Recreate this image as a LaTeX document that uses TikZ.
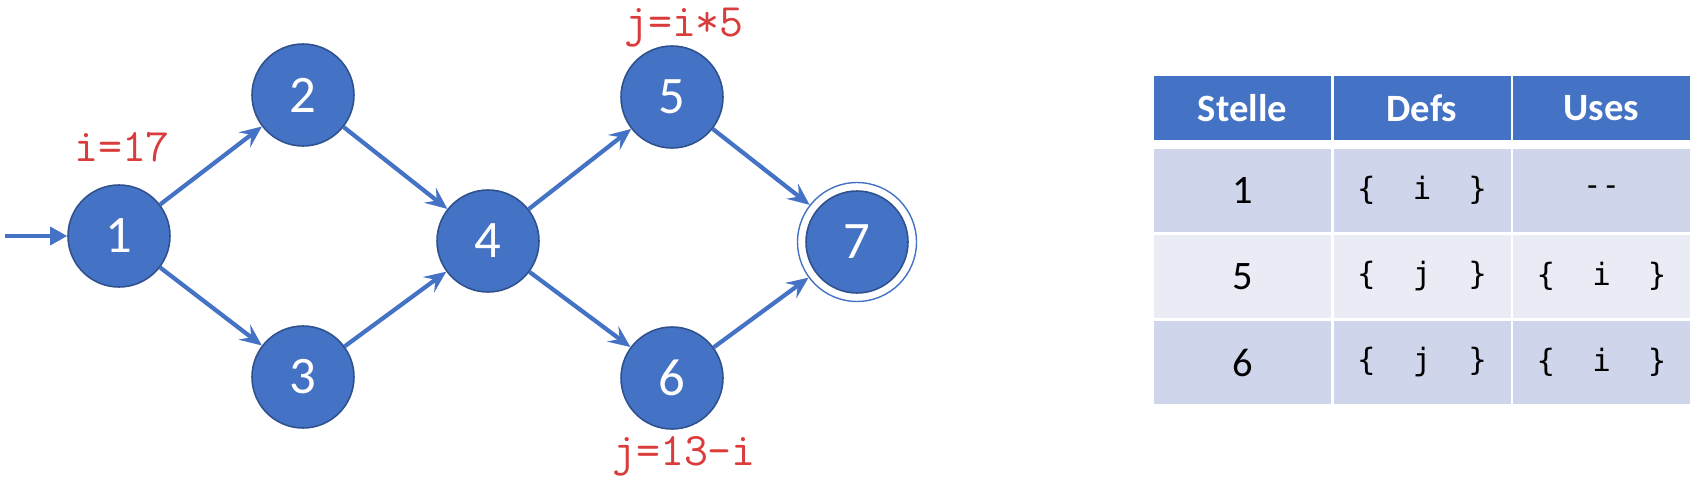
\documentclass[tikz,border=0pt]{standalone}
\usepackage{fontspec}
\setmainfont{Carlito}
\newfontfamily\cellmono{DejaVu Sans Mono}
\usepackage{xcolor}
\usetikzlibrary{arrows.meta}
\definecolor{nodeblue}{HTML}{4472C4}
\definecolor{nodeedge}{HTML}{2F528F}
\definecolor{defred}{HTML}{DA3B3B}
\definecolor{rowdark}{HTML}{CFD5EA}
\definecolor{rowlight}{HTML}{E9EBF5}

\begin{document}
\begin{tikzpicture}[x=0.02cm, y=-0.02cm,
  state/.style={circle, fill=nodeblue, draw=nodeedge, line width=0.9pt,
    minimum size=2.04cm, inner sep=0pt, text=white,
    font=\fontsize{30}{36}\selectfont},
  ring/.style={circle, draw=nodeblue, line width=0.8pt,
    minimum size=2.38cm, inner sep=0pt},
  flow/.style={-{Stealth[length=0.44cm, width=0.38cm, inset=0.17cm]},
    nodeblue, line width=2.4pt},
  entry/.style={-{Triangle[length=0.34cm, width=0.36cm]},
    nodeblue, line width=2pt},
  deflabel/.style={anchor=base, text=defred, inner sep=0pt,
    font=\ttfamily\fontsize{26.5}{30}\selectfont},
  head/.style={fill=nodeblue, text=white, minimum width=3.54cm,
    minimum height=1.28cm, inner sep=0pt,
    font=\bfseries\fontsize{22}{26}\selectfont},
  cell/.style={minimum width=3.54cm, minimum height=1.66cm, inner sep=0pt,
    font=\fontsize{23}{28}\selectfont},
  monocell/.style={cell, font=\cellmono\fontsize{17.5}{21}\selectfont}
]
\useasboundingbox (0,0) rectangle (1693,480);

% graph
\node[state] (n1) at (119, 236) {1};
\node[state] (n2) at (303, 95) {2};
\node[state] (n3) at (303, 377) {3};
\node[state] (n4) at (488, 241) {4};
\node[state] (n5) at (672, 97) {5};
\node[state] (n6) at (672, 378) {6};
\node[state] (n7) at (857, 242) {7};
\node[ring] (n7ring) at (n7) {};
\coordinate (start) at (5, 236);

\node[deflabel] (d1) at (122, 161) {i=17};
\node[deflabel] (d5) at (684, 36) {j=i*5};
\node[deflabel] (d6) at (684, 465) {j=13-i};

\draw[entry] (start) -- (n1);
\draw[flow] (n1) -- (n2);
\draw[flow] (n1) -- (n3);
\draw[flow] (n2) -- (n4);
\draw[flow] (n3) -- (n4);
\draw[flow] (n4) -- (n5);
\draw[flow] (n4) -- (n6);
\draw[flow] (n5) -- (n7ring);
\draw[flow] (n6) -- (n7ring);

% table
\node[head] (hs) at (1242.5, 108) {Stelle};
\node[head] (hd) at (1422, 108) {Defs};
\node[head] (hu) at (1601.5, 108) {Uses};

\node[cell, fill=rowdark] (s1) at (1242.5, 190.5) {1};
\node[monocell, fill=rowdark] (d1c) at (1422, 190.5) {\{~~i~~\}};
\node[monocell, fill=rowdark] (u1c) at (1601.5, 190.5) {-{}-};

\node[cell, fill=rowlight] (s5) at (1242.5, 276.5) {5};
\node[monocell, fill=rowlight] (d5c) at (1422, 276.5) {\{~~j~~\}};
\node[monocell, fill=rowlight] (u5c) at (1601.5, 276.5) {\{~~i~~\}};

\node[cell, fill=rowdark] (s6) at (1242.5, 362.5) {6};
\node[monocell, fill=rowdark] (d6c) at (1422, 362.5) {\{~~j~~\}};
\node[monocell, fill=rowdark] (u6c) at (1601.5, 362.5) {\{~~i~~\}};
\end{tikzpicture}
\end{document}
